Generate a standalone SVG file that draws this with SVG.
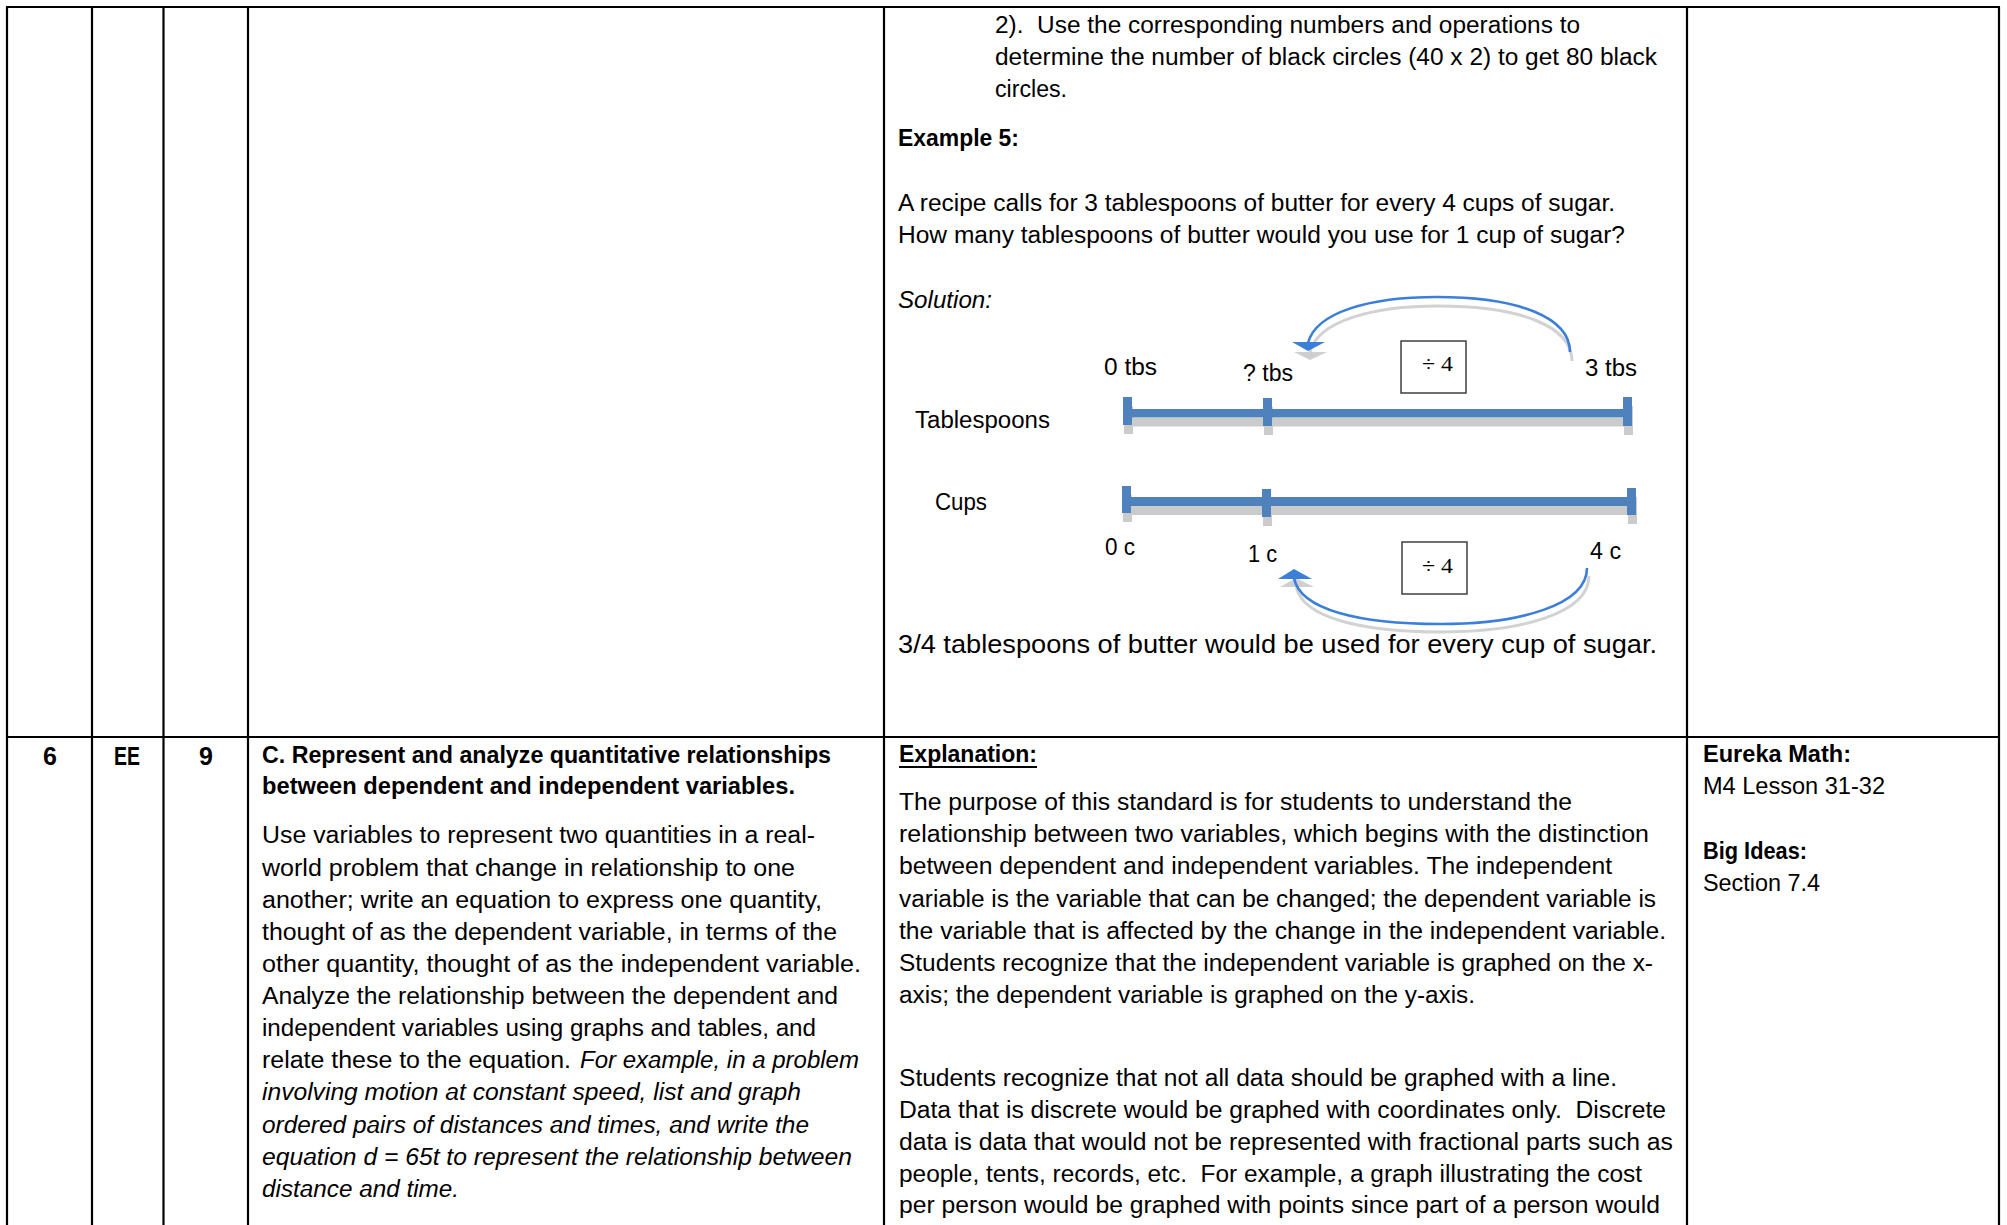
<svg xmlns="http://www.w3.org/2000/svg" width="2007" height="1225" viewBox="0 0 2007 1225">
<style>
.t{font-family:"Liberation Sans",Arial,sans-serif;font-size:23px;fill:#000}
.b{font-weight:bold}
.i{font-style:italic}
.big{font-size:25px}
.id{font-size:25px}
.dv{font-family:"Liberation Serif","Times New Roman",serif;font-size:20px;fill:#000}
.grid{stroke:#000;stroke-width:2.2;fill:none}
.bar{fill:#4F81BD}
.shd{fill:#CBCBCB}
.arc{fill:none;stroke:#3C7FD9;stroke-width:2.6}
.arcs{fill:none;stroke:#D2D2D2;stroke-width:3}
.ah{fill:#3C7FD9}
.ahs{fill:#CFCFCF}
.box{fill:#fff;stroke:#333;stroke-width:1.4}
</style>
<rect width="2007" height="1225" fill="#fff"/>

<g id="table-grid" class="grid">
<line x1="6" y1="7" x2="2000" y2="7"/>
<line x1="7" y1="7" x2="7" y2="1225"/>
<line x1="92" y1="7" x2="92" y2="1225"/>
<line x1="163.5" y1="7" x2="163.5" y2="1225"/>
<line x1="248" y1="7" x2="248" y2="1225"/>
<line x1="884" y1="7" x2="884" y2="1225"/>
<line x1="1687" y1="7" x2="1687" y2="1225"/>
<line x1="1999" y1="7" x2="1999" y2="1225"/>
<line x1="6" y1="737" x2="2000" y2="737"/>
</g>

<g id="example-text">
<text class="t" x="995" y="33" textLength="585" lengthAdjust="spacingAndGlyphs" xml:space="preserve">2).  Use the corresponding numbers and operations to</text>
<text class="t" x="995" y="65" textLength="662" lengthAdjust="spacingAndGlyphs">determine the number of black circles (40 x 2) to get 80 black</text>
<text class="t" x="995" y="97" textLength="72" lengthAdjust="spacingAndGlyphs">circles.</text>
<text class="t b" x="898" y="146" textLength="121" lengthAdjust="spacingAndGlyphs">Example 5:</text>
<text class="t" x="898" y="211" textLength="717" lengthAdjust="spacingAndGlyphs">A recipe calls for 3 tablespoons of butter for every 4 cups of sugar.</text>
<text class="t" x="898" y="243" textLength="727" lengthAdjust="spacingAndGlyphs">How many tablespoons of butter would you use for 1 cup of sugar?</text>
<text class="t i" x="898" y="308" textLength="94" lengthAdjust="spacingAndGlyphs">Solution:</text>
<text class="t big" x="898" y="653" textLength="759" lengthAdjust="spacingAndGlyphs">3/4 tablespoons of butter would be used for every cup of sugar.</text>
</g>

<g id="number-lines">
<g id="shadows" class="shd" transform="translate(1,9)">
<rect x="1127" y="409" width="501" height="8.5"/>
<rect x="1123" y="397" width="9" height="28"/>
<rect x="1263" y="398" width="9" height="28"/>
<rect x="1623" y="397" width="9" height="29"/>
<rect x="1126" y="497" width="506" height="9"/>
<rect x="1122" y="486" width="9" height="27"/>
<rect x="1262" y="489" width="9" height="28"/>
<rect x="1627" y="488" width="9" height="27"/>
</g>
<g id="tablespoons-line" class="bar">
<rect x="1127" y="409" width="501" height="8.5"/>
<rect x="1123" y="397" width="9" height="28"/>
<rect x="1263" y="398" width="9" height="28"/>
<rect x="1623" y="397" width="9" height="29"/>
</g>
<g id="cups-line" class="bar">
<rect x="1126" y="497" width="506" height="9"/>
<rect x="1122" y="486" width="9" height="27"/>
<rect x="1262" y="489" width="9" height="28"/>
<rect x="1627" y="488" width="9" height="27"/>
</g>
<g id="labels">
<text class="t" x="915" y="428" textLength="135" lengthAdjust="spacingAndGlyphs">Tablespoons</text>
<text class="t" x="935" y="510" textLength="52" lengthAdjust="spacingAndGlyphs">Cups</text>
<text class="t" x="1104" y="375" textLength="53" lengthAdjust="spacingAndGlyphs">0 tbs</text>
<text class="t" x="1243" y="381" textLength="50" lengthAdjust="spacingAndGlyphs">? tbs</text>
<text class="t" x="1585" y="376" textLength="52" lengthAdjust="spacingAndGlyphs">3 tbs</text>
<text class="t" x="1105" y="555" textLength="30" lengthAdjust="spacingAndGlyphs">0 c</text>
<text class="t" x="1248" y="562" textLength="29" lengthAdjust="spacingAndGlyphs">1 c</text>
<text class="t" x="1590" y="559" textLength="31" lengthAdjust="spacingAndGlyphs">4 c</text>
</g>
</g>

<g id="connectors">
<g transform="translate(2,9)">
<path class="arcs" d="M1570,352 C1570,318 1520,297 1437,297 C1370,297 1316,312 1308,343"/>
<polygon class="ahs" points="1292,343 1325,343 1308,351"/>
</g>
<path class="arc" d="M1570,352 C1570,318 1520,297 1437,297 C1370,297 1316,312 1308,343"/>
<polygon class="ah" points="1292,342 1325,342 1308,351"/>
<g transform="translate(2,8)">
<path class="arcs" d="M1587,568 C1587,605 1520,624 1440,624 C1360,624 1300,610 1294,578"/>
<polygon class="ahs" points="1278,579 1312,579 1294,570"/>
</g>
<path class="arc" d="M1587,568 C1587,605 1520,624 1440,624 C1360,624 1300,610 1294,578"/>
<polygon class="ah" points="1278,579 1312,579 1294,569"/>
</g>

<g id="divide-top">
<rect class="box" x="1401" y="341" width="65" height="52"/>
<text class="dv" x="1422" y="371" textLength="31" lengthAdjust="spacingAndGlyphs">÷ 4</text>
</g>
<g id="divide-bottom">
<rect class="box" x="1402" y="542" width="65" height="52"/>
<text class="dv" x="1422" y="573" textLength="31" lengthAdjust="spacingAndGlyphs">÷ 4</text>
</g>

<g id="row-ids">
<text class="t b id" x="50" y="765" text-anchor="middle">6</text>
<text class="t b id" x="114" y="765" textLength="26" lengthAdjust="spacingAndGlyphs">EE</text>
<text class="t b id" x="206" y="765" text-anchor="middle">9</text>
</g>

<g id="standard">
<text class="t b" x="262" y="763" textLength="569" lengthAdjust="spacingAndGlyphs">C. Represent and analyze quantitative relationships</text>
<text class="t b" x="262" y="794" textLength="533" lengthAdjust="spacingAndGlyphs">between dependent and independent variables.</text>
<text class="t" x="262" y="843" textLength="553" lengthAdjust="spacingAndGlyphs">Use variables to represent two quantities in a real-</text>
<text class="t" x="262" y="876" textLength="533" lengthAdjust="spacingAndGlyphs">world problem that change in relationship to one</text>
<text class="t" x="262" y="908" textLength="560" lengthAdjust="spacingAndGlyphs">another; write an equation to express one quantity,</text>
<text class="t" x="262" y="940" textLength="575" lengthAdjust="spacingAndGlyphs">thought of as the dependent variable, in terms of the</text>
<text class="t" x="262" y="972" textLength="599" lengthAdjust="spacingAndGlyphs">other quantity, thought of as the independent variable.</text>
<text class="t" x="262" y="1004" textLength="576" lengthAdjust="spacingAndGlyphs">Analyze the relationship between the dependent and</text>
<text class="t" x="262" y="1036" textLength="554" lengthAdjust="spacingAndGlyphs">independent variables using graphs and tables, and</text>
<text class="t" x="262" y="1068" textLength="309" lengthAdjust="spacingAndGlyphs">relate these to the equation.</text>
<text class="t i" x="580" y="1068" textLength="279" lengthAdjust="spacingAndGlyphs">For example, in a problem</text>
<text class="t i" x="262" y="1100" textLength="539" lengthAdjust="spacingAndGlyphs">involving motion at constant speed, list and graph</text>
<text class="t i" x="262" y="1133" textLength="547" lengthAdjust="spacingAndGlyphs">ordered pairs of distances and times, and write the</text>
<text class="t i" x="262" y="1165" textLength="590" lengthAdjust="spacingAndGlyphs">equation d = 65t to represent the relationship between</text>
<text class="t i" x="262" y="1197" textLength="197" lengthAdjust="spacingAndGlyphs">distance and time.</text>
</g>

<g id="explanation">
<text class="t b" x="899" y="762" textLength="138" lengthAdjust="spacingAndGlyphs">Explanation:</text>
<line x1="899" y1="767" x2="1037" y2="767" stroke="#000" stroke-width="2"/>
<text class="t" x="899" y="810" textLength="673" lengthAdjust="spacingAndGlyphs">The purpose of this standard is for students to understand the</text>
<text class="t" x="899" y="842" textLength="750" lengthAdjust="spacingAndGlyphs">relationship between two variables, which begins with the distinction</text>
<text class="t" x="899" y="874" textLength="713" lengthAdjust="spacingAndGlyphs">between dependent and independent variables. The independent</text>
<text class="t" x="899" y="907" textLength="757" lengthAdjust="spacingAndGlyphs">variable is the variable that can be changed; the dependent variable is</text>
<text class="t" x="899" y="939" textLength="767" lengthAdjust="spacingAndGlyphs">the variable that is affected by the change in the independent variable.</text>
<text class="t" x="899" y="971" textLength="754" lengthAdjust="spacingAndGlyphs">Students recognize that the independent variable is graphed on the x-</text>
<text class="t" x="899" y="1003" textLength="576" lengthAdjust="spacingAndGlyphs">axis; the dependent variable is graphed on the y-axis.</text>
<text class="t" x="899" y="1086" textLength="718" lengthAdjust="spacingAndGlyphs">Students recognize that not all data should be graphed with a line.</text>
<text class="t" x="899" y="1118" textLength="767" lengthAdjust="spacingAndGlyphs" xml:space="preserve">Data that is discrete would be graphed with coordinates only.  Discrete</text>
<text class="t" x="899" y="1150" textLength="774" lengthAdjust="spacingAndGlyphs">data is data that would not be represented with fractional parts such as</text>
<text class="t" x="899" y="1182" textLength="743" lengthAdjust="spacingAndGlyphs" xml:space="preserve">people, tents, records, etc.  For example, a graph illustrating the cost</text>
<text class="t" x="899" y="1213" textLength="761" lengthAdjust="spacingAndGlyphs">per person would be graphed with points since part of a person would</text>
</g>

<g id="resources">
<text class="t b" x="1703" y="762" textLength="148" lengthAdjust="spacingAndGlyphs">Eureka Math:</text>
<text class="t" x="1703" y="794" textLength="182" lengthAdjust="spacingAndGlyphs">M4 Lesson 31-32</text>
<text class="t b" x="1703" y="859" textLength="104" lengthAdjust="spacingAndGlyphs">Big Ideas:</text>
<text class="t" x="1703" y="891" textLength="117" lengthAdjust="spacingAndGlyphs">Section 7.4</text>
</g>
</svg>
